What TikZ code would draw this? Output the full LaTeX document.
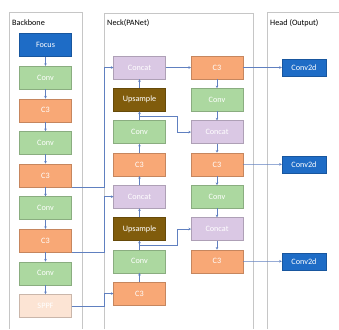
\documentclass[tikz,border=0pt]{standalone}
\usepackage{fontspec}
\setmainfont{Carlito}
\usetikzlibrary{arrows.meta, calc}
\definecolor{headblue}{RGB}{30,108,198}
\definecolor{convgreen}{RGB}{172,216,160}
\definecolor{cthree}{RGB}{248,168,118}
\definecolor{concatpurple}{RGB}{218,200,228}
\definecolor{upbrown}{RGB}{128,92,12}
\definecolor{sppfpeach}{RGB}{252,228,212}
\definecolor{linkblue}{RGB}{96,128,192}

\begin{document}
\begin{tikzpicture}[x=0.03cm, y=-0.03cm, font=\fontsize{7}{8}\selectfont,
    box/.style={fill=#1, draw=#1!80!black, line width=0.3pt, text=white,
        minimum width=1.55cm, minimum height=0.69cm, inner sep=0pt},
    headbox/.style={box=headblue, minimum width=1.32cm, minimum height=0.51cm},
    link/.style={draw=linkblue, line width=0.45pt, -{Stealth[length=2.2pt,width=2.2pt]}},
    panel/.style={draw=gray!45, line width=0.7pt}]
    \useasboundingbox (0,0) rectangle (339,329);

    % panels
    \draw[panel] (9,329) |- (82,12) -- (82,329);
    \draw[panel] (104,329) |- (253,13) -- (253,329);
    \draw[panel] (267,329) |- (339,12);
    \node[anchor=west, inner sep=0pt] (tback) at (12,23) {Backbone};
    \node[anchor=west, inner sep=0pt] (tneck) at (107,23) {Neck(PANet)};
    \node[anchor=west, inner sep=0pt] (thead) at (270,23) {Head (Output)};

    % backbone
    \foreach \lbl/\col [count=\i from 0] in {Focus/headblue, Conv/convgreen, C3/cthree,
        Conv/convgreen, C3/cthree, Conv/convgreen, C3/cthree, Conv/convgreen, SPPF/sppfpeach}
        \node[box=\col] (b\i) at (45.5,{45+32.6*\i}) {\lbl};

    % neck, left column (bottom to top)
    \foreach \lbl/\col [count=\i from 0] in {Concat/concatpurple, Upsample/upbrown, Conv/convgreen,
        C3/cthree, Concat/concatpurple, Upsample/upbrown, Conv/convgreen, C3/cthree}
        \node[box=\col] (n\i) at (139.5,{67.5+32.3*\i}) {\lbl};

    % neck, right column (top to bottom)
    \foreach \lbl/\col [count=\i from 0] in {C3/cthree, Conv/convgreen, Concat/concatpurple,
        C3/cthree, Conv/convgreen, Concat/concatpurple, C3/cthree}
        \node[box=\col] (m\i) at (217,{67.5+32.3*\i}) {\lbl};

    % head
    \node[headbox] (head1) at (304,67.5) {Conv2d};
    \node[headbox] (head2) at (304,164.4) {Conv2d};
    \node[headbox] (head3) at (304,261.3) {Conv2d};

    % vertical flow
    \foreach \i [evaluate=\i as \j using int(\i+1)] in {0,...,7}
        \draw[link] (b\i) -- (b\j);
    \foreach \i [evaluate=\i as \j using int(\i+1)] in {0,...,6}
        \draw[link] (n\j) -- (n\i);
    \foreach \i [evaluate=\i as \j using int(\i+1)] in {0,...,5}
        \draw[link] (m\i) -- (m\j);

    % backbone to neck
    \coordinate (rail) at (104,0);
    \draw[link] (b4.south east) -- (b4.south east -| rail) |- (n0.west);
    \draw[link] (b6.south east) -- (b6.south east -| rail) |- (n4.west);
    \draw[link] (b8.east) -- (b8.east -| rail) |- (n7.west);

    % across the neck
    \coordinate (mid) at (177,0);
    \coordinate (tap2) at ($(n2.north)+(0,-4)$);
    \coordinate (tap6) at ($(n6.north)+(0,-4)$);
    \draw[link] (n0) -- (m0);
    \draw[link] (tap2) -- (tap2 -| mid) |- (m2.west);
    \draw[link] (tap6) -- (tap6 -| mid) |- (m5.west);

    % neck to head
    \draw[link] (m0) -- (head1);
    \draw[link] (m3) -- (head2);
    \draw[link] (m6) -- (head3);
\end{tikzpicture}
\end{document}
